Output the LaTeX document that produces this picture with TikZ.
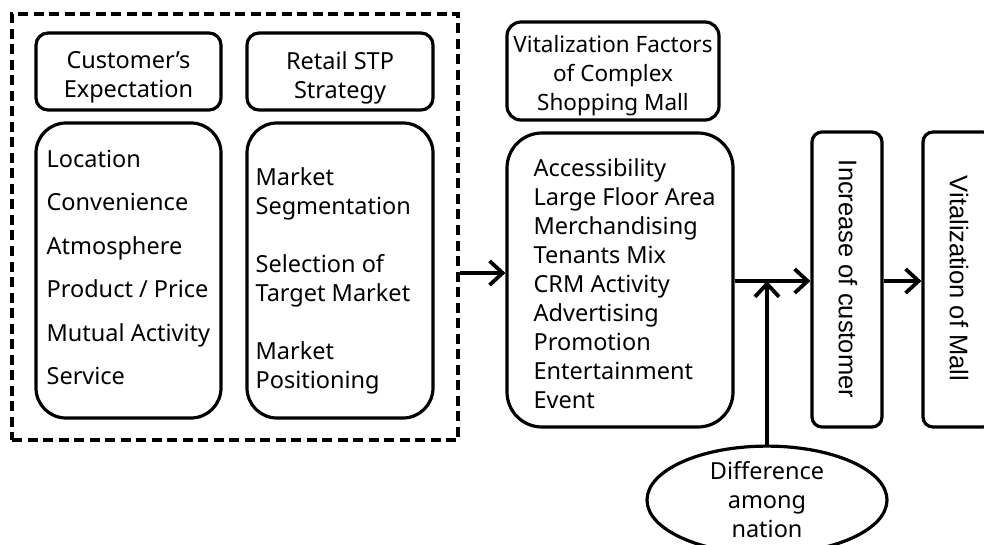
\documentclass[tikz,border=0pt]{standalone}
\usepackage{fontspec}
\setmainfont{Noto Sans}
\newfontfamily\rotfont{Liberation Sans}
\usetikzlibrary{arrows.meta,shapes.geometric}

\begin{document}
\begin{tikzpicture}[x=1pt,y=-1pt,
  box/.style={draw,line width=3.2pt,rounded corners=#1,inner sep=0pt},
  lbl/.style={font=\fontsize{23.5}{29}\selectfont,align=center,inner sep=0pt},
  lst/.style={font=\fontsize{23.5}{29}\selectfont,align=left,inner sep=0pt,anchor=west},
  vtxt/.style={font=\rotfont\fontsize{25.5}{30}\selectfont,rotate=-90,inner sep=0pt},
  flow/.style={line width=3.8pt,-{Straight Barb[length=13pt,width=24pt]}}]
\clip (0,0) rectangle (984,545);

% grouping frame
\node[draw,line width=3.3pt,dash pattern=on 10pt off 5.5pt,minimum width=446pt,minimum height=426pt,inner sep=0pt] (group) at (235,227) {};

% customer's expectation
\node[box=12pt,minimum width=185pt,minimum height=77pt] (expTitle) at (128.5,71.5) {};
\node[lbl] (expTitleTxt) at ([yshift=-6pt]expTitle.center) {Customer’s\\Expectation};
\node[box=30pt,minimum width=185pt,minimum height=295pt] (expBody) at (128.5,270.5) {};
\node[lst,font=\fontsize{23.5}{43.4}\selectfont] (expList) at ([xshift=12pt,yshift=3pt]expBody.west)
  {Location\\Convenience\\Atmosphere\\Product / Price\\Mutual Activity\\Service};

% retail STP strategy
\node[box=12pt,minimum width=186pt,minimum height=77pt] (stpTitle) at (340,71.5) {};
\node[lbl] (stpTitleTxt) at ([yshift=-6pt]stpTitle.center) {Retail STP\\Strategy};
\node[box=30pt,minimum width=186pt,minimum height=295pt] (stpBody) at (340,270.5) {};
\node[lst] (stpList) at ([xshift=10pt,yshift=-10pt]stpBody.west)
  {Market\\Segmentation\\[29pt]Selection of\\Target Market\\[29pt]Market\\Positioning};

% vitalization factors
\node[box=14pt,minimum width=212pt,minimum height=98pt] (facTitle) at (613,71) {};
\node[lbl,font=\fontsize{22.5}{29}\selectfont] (facTitleTxt) at ([yshift=-5pt]facTitle.center) {Vitalization Factors\\of Complex\\Shopping Mall};
\node[box=35pt,minimum width=226pt,minimum height=294pt] (facBody) at (620,280) {};
\node[lst] (facList) at ([xshift=28pt,yshift=-4pt]facBody.west)
  {Accessibility\\Large Floor Area\\Merchandising\\Tenants Mix\\CRM Activity\\Advertising\\Promotion\\Entertainment\\Event};

% outcomes
\node[box=10pt,minimum width=70pt,minimum height=295pt] (incr) at (847,279.5) {};
\node[vtxt] (incrTxt) at (848,279) {Increase of customer};
\node[box=10pt,minimum width=70pt,minimum height=295pt] (vmall) at (958,279.5) {};
\node[vtxt] (vmallTxt) at (959,278.5) {Vitalization of Mall};

% moderating factor
\node[draw,line width=3.2pt,ellipse,minimum width=240pt,minimum height=100pt,inner sep=0pt,lbl] (diff) at (767,500) {Difference\\among\\nation};

% connectors
\coordinate (yA) at (0,273);
\coordinate (yB) at (0,281);
\draw[flow] (group.east |- yA) -- (facBody.west |- yA);
\draw[flow] (facBody.east |- yB) -- (incr.west |- yB);
\draw[flow] (incr.east |- yB) -- (vmall.west |- yB);
\draw[flow] (diff.north) -- (diff.north |- yB);
\end{tikzpicture}
\end{document}
